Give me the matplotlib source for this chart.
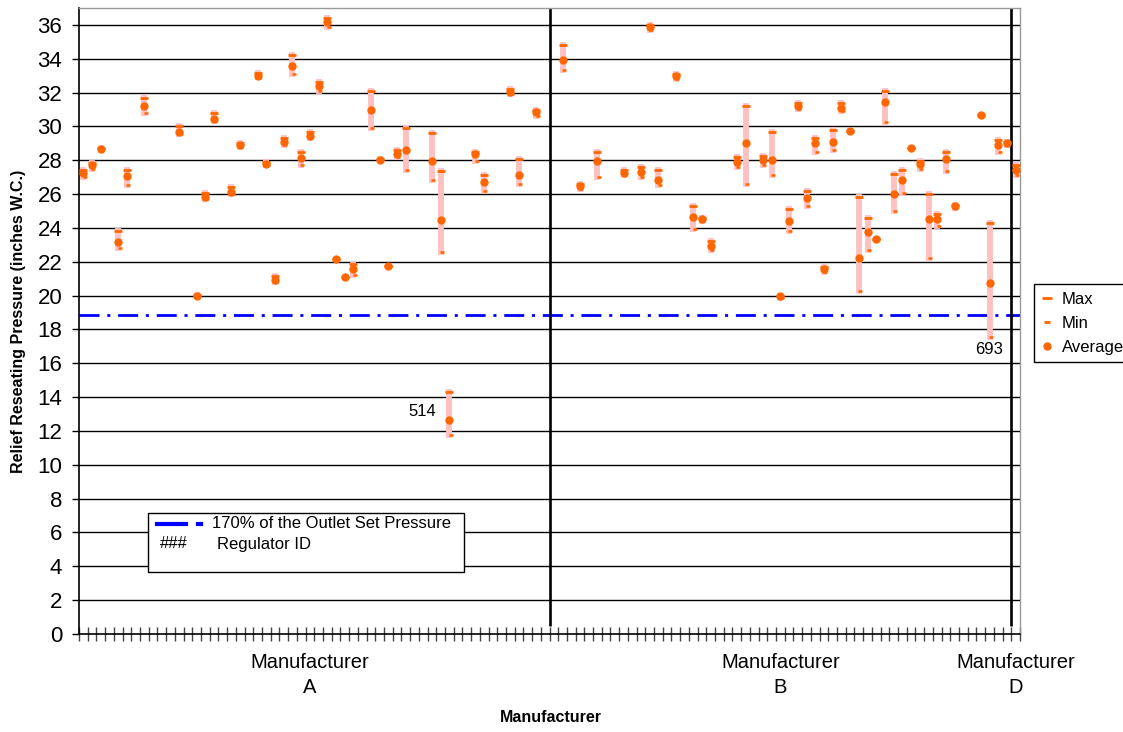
import numpy as np
import matplotlib
matplotlib.use('Agg')
import matplotlib.pyplot as plt
from matplotlib.lines import Line2D
from matplotlib.patches import Rectangle

plt.rcParams['font.family'] = ['Liberation Sans', 'DejaVu Sans']
plt.rcParams['lines.scale_dashes'] = False

nan = np.nan
# 108 regulator slots: A = 0..53, B = 54..106, D = 107
avg_vals = [27.25, 27.7, 28.65, nan, 23.15, 27.05, nan, 31.2, nan, nan,
            nan, 29.7, nan, 20.0, 25.85, 30.45, nan, 26.15, 28.9, nan,
            33.0, 27.8, 20.95, 29.1, 33.55, 28.15, 29.45, 32.4, 36.15, 22.15,
            21.1, 21.55, nan, 30.95, 28.0, 21.75, 28.35, 28.6, nan, nan,
            27.95, 24.45, 12.65, nan, nan, 28.35, 26.7, nan, nan, 32.05,
            27.15, nan, 30.85, nan, nan, 33.9, nan, 26.45, nan, 27.95,
            nan, nan, 27.25, nan, 27.3, 35.9, 26.85, nan, 33.0, nan,
            24.65, 24.5, 22.95, nan, nan, 27.9, 29.05, nan, 28.0, 28.0,
            19.95, 24.4, 31.2, 25.75, 29.0, 21.55, 29.1, 31.1, 29.75, 22.2,
            23.75, 23.35, 31.45, 26.0, 26.85, 28.75, 27.8, 24.55, 24.55, 28.05,
            25.3, nan, nan, 30.7, 20.75, 28.9, 29.0, 27.4]
max_vals = [27.45, 27.85, 28.7, nan, 23.8, 27.4, nan, 31.7, nan, nan,
            nan, 30.0, nan, 20.05, 26.05, 30.8, nan, 26.4, 29.05, nan,
            33.15, 27.9, 21.15, 29.3, 34.2, 28.5, 29.65, 32.65, 36.4, 22.15,
            21.1, 21.85, nan, 32.1, 28.05, 21.75, 28.6, 29.9, nan, nan,
            29.6, 27.35, 14.3, nan, nan, 28.5, 27.1, nan, nan, 32.2,
            28.1, nan, 31.0, nan, nan, 34.8, nan, 26.6, nan, 28.5,
            nan, nan, 27.4, nan, 27.6, 36.0, 27.4, nan, 33.1, nan,
            25.3, 24.6, 23.25, nan, nan, 28.2, 31.2, nan, 28.25, 29.7,
            20.0, 25.1, 31.4, 26.2, 29.3, 21.7, 29.8, 31.4, 29.75, 25.8,
            24.6, 23.35, 32.1, 27.2, 27.4, 28.75, 27.95, 26.0, 24.8, 28.5,
            25.35, nan, nan, 30.7, 24.3, 29.2, 29.1, 27.7]
min_vals = [27.0, 27.5, 28.6, nan, 22.8, 26.55, nan, 30.8, nan, nan,
            nan, 29.55, nan, 19.95, 25.7, 30.3, nan, 26.0, 28.8, nan,
            32.9, 27.75, 20.8, 28.9, 33.1, 27.7, 29.3, 32.1, 35.9, 22.15,
            21.1, 21.2, nan, 29.9, 27.95, 21.75, 28.2, 27.45, nan, nan,
            26.85, 22.6, 11.75, nan, nan, 27.95, 26.2, nan, nan, 31.9,
            26.6, nan, 30.6, nan, nan, 33.35, nan, 26.3, nan, 27.0,
            nan, nan, 27.1, nan, 27.0, 35.7, 26.55, nan, 32.8, nan,
            23.95, 24.4, 22.7, nan, nan, 27.6, 26.6, nan, 27.7, 27.1,
            19.85, 23.8, 31.05, 25.3, 28.5, 21.4, 28.6, 30.9, 29.75, 20.25,
            22.7, 23.35, 30.25, 25.0, 26.05, 28.75, 27.5, 22.2, 24.1, 27.35,
            25.2, nan, nan, 30.7, 17.55, 28.5, 28.9, 27.15]

limit_170 = 18.85
group_names = ['Manufacturer\nA', 'Manufacturer\nB', 'Manufacturer\nD']
group_label_pos = [26, 80, 107]
group_breaks = [53.5, 106.5]
id_slots = [42, 104]
id_texts = ['514', '693']

orange = '#FF6600'
pink = '#FFC0C0'

x = np.arange(len(avg_vals))
avg = np.array(avg_vals)
vmax = np.array(max_vals)
vmin = np.array(min_vals)

fig = plt.figure(figsize=(11.23, 7.32), dpi=100)
ax = fig.add_axes([79/1123, 1 - 634/732, (1020 - 79)/1123, (634 - 8)/732])

ok = ~np.isnan(avg)
ax.vlines(x[ok], vmin[ok], vmax[ok], colors=pink, linewidth=4.2, zorder=3,
          capstyle='projecting')
ax.plot(x[ok], vmax[ok], ls='none', marker='_', ms=6, mew=2, color=orange, zorder=4)
ax.plot(x[ok] + 0.15, vmin[ok], ls='none', marker='_', ms=3.5, mew=1.8, color=orange, zorder=4)
ax.plot(x[ok], avg[ok], ls='none', marker='o', ms=5, color=orange, zorder=5)

ax.axhline(limit_170, color='#0000FF', lw=2, ls=(0, (14.4, 5.6, 2.2, 5.6)), zorder=2)

for b in group_breaks:
    ax.vlines(b, 0.5, 37, colors='black', linewidth=1.9, zorder=2)

for i, t in zip(id_slots, id_texts):
    if t == '514':
        ax.annotate(t, xy=(i, avg[i]), xytext=(-19.5, 6), textcoords='offset points',
                    ha='center', va='center', fontsize=12)
    else:
        ax.annotate(t, xy=(i, vmin[i]), xytext=(0, -9), textcoords='offset points',
                    ha='center', va='center', fontsize=12)

ax.set_xlim(-0.5, len(avg_vals) - 0.5)
ax.set_ylim(0, 37)
ax.set_yticks(np.arange(0, 37, 2))
ax.tick_params(axis='y', labelsize=16, direction='out', length=5, width=1, pad=7)
for yy in np.arange(2, 37, 2):
    ax.axhline(yy, color='black', lw=1, zorder=1)

ax.set_xticks(group_label_pos)
ax.set_xticklabels(group_names, fontsize=14.5, linespacing=1.4)
ax.set_xticks(np.arange(-0.5, len(avg_vals), 1), minor=True)
ax.tick_params(axis='x', which='major', length=0, pad=14)
ax.tick_params(axis='x', which='minor', direction='inout', length=10, width=1, color='#444444')

for s in ['top', 'right']:
    ax.spines[s].set_color('#999999')
    ax.spines[s].set_linewidth(1)
for s in ['left', 'bottom']:
    ax.spines[s].set_color('black')
    ax.spines[s].set_linewidth(1.2)

ax.set_ylabel('Relief Reseating Pressure (inches W.C.)', fontsize=11.5, fontweight='bold', labelpad=8)
fig.text((498 + 603) / 2 / 1123, 1 - 718 / 732, 'Manufacturer', ha='center', va='center',
         fontsize=11.5, fontweight='bold')

# series legend on the right
handles = [Line2D([], [], ls='none', marker='_', ms=7, mew=2, color=orange),
           Line2D([], [], ls='none', marker='_', ms=4, mew=2, color=orange),
           Line2D([], [], ls='none', marker='o', ms=5, color=orange)]
leg = fig.legend(handles, ['Max', 'Min', 'Average'], loc='upper left',
                 bbox_to_anchor=(1034 / 1123, 1 - 284 / 732), bbox_transform=fig.transFigure,
                 borderaxespad=0, fontsize=12, handlelength=0.7, handletextpad=0.5,
                 borderpad=0.45, labelspacing=0.55, fancybox=False, framealpha=1)
leg.get_frame().set_edgecolor('black')
leg.get_frame().set_linewidth(1)

# note box inside the plot
box = Rectangle((148 / 1123, 1 - 572 / 732), (464 - 148) / 1123, (572 - 513) / 732,
                transform=fig.transFigure, facecolor='white', edgecolor='black', lw=1, zorder=6)
fig.add_artist(box)
fig.add_artist(Line2D([157 / 1123, 186 / 1123], [1 - 524 / 732] * 2, transform=fig.transFigure,
                      color='#0000FF', lw=3, zorder=7))
fig.add_artist(Line2D([198 / 1123, 201 / 1123], [1 - 524 / 732] * 2, transform=fig.transFigure,
                      color='#0000FF', lw=3, zorder=7))
fig.text(212 / 1123, 1 - 524 / 732, '170% of the Outlet Set Pressure', fontsize=12,
         va='center', ha='left', zorder=7)
fig.text(160 / 1123, 1 - 544 / 732, '###', fontsize=12, va='center', ha='left', zorder=7)
fig.text(217 / 1123, 1 - 544 / 732, 'Regulator ID', fontsize=12, va='center', ha='left', zorder=7)

fig.savefig('out.png', dpi=100)
